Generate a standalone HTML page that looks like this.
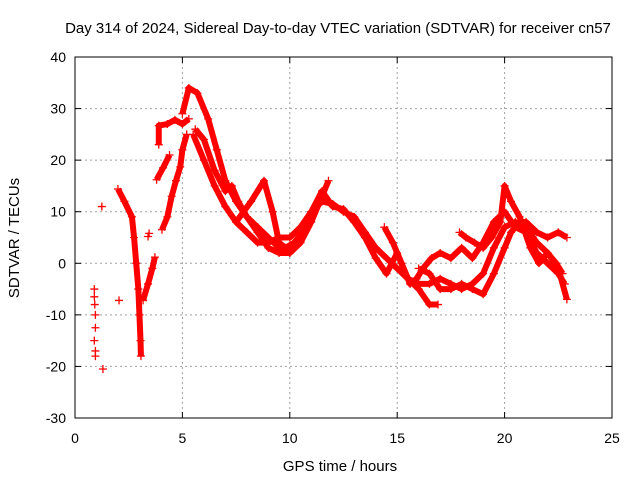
<!DOCTYPE html>
<html><head><meta charset="utf-8"><style>
body{margin:0;background:#fff}
svg{display:block;font-family:"Liberation Sans",sans-serif}
</style></head><body>
<svg id="chart" width="640" height="480">
<text x="338" y="33" font-size="15" text-anchor="middle">Day 314 of 2024, Sidereal Day-to-day VTEC variation (SDTVAR) for receiver cn57</text>
<text x="340" y="471" font-size="15" text-anchor="middle">GPS time / hours</text>
<text x="19" y="238" font-size="15" text-anchor="middle" transform="rotate(-90 19 238)">SDTVAR / TECUs</text>
<g id="grid"></g><g id="ticks"></g><g id="series"></g>
<rect x="75" y="57" width="537" height="361" fill="none" stroke="#000" stroke-width="1"/>
</svg>
<script>
const xTicks=[0,5,10,15,20,25];
const yTicks=[-30,-20,-10,0,10,20,30,40];
const isolated=[[0.9,-5],[0.9,-6.5],[0.92,-8],[0.95,-10],[0.95,-12.5],[0.9,-15],[0.95,-17],[0.95,-18],[1.25,11],[1.3,-20.5],[2.05,-7.2],[3.4,5.2],[3.45,5.8]];
const trackA=[[5.0,29],[5.3,34],[5.7,33],[6.2,28],[6.6,22],[7.0,16],[7.5,12],[8.0,9],[8.5,6],[9.0,3],[9.5,2],[10.0,2],[10.5,4],[11.0,8],[11.5,13],[11.8,16]];
const trackB=[[5.5,25],[6.0,20],[6.5,15],[7.0,11],[7.5,8],[8.0,6],[8.5,4],[9.0,4],[9.5,5],[10,5],[10.5,7],[11,10],[11.5,12],[12,11.5],[12.5,10],[13,9],[13.5,6],[14,3],[14.5,1],[15,-1],[15.5,-3],[16,-4],[16.5,-4],[17,-3],[17.5,-4],[18,-5],[18.5,-4],[19,-2],[19.5,3],[20,7],[20.5,8],[21,7],[21.5,4],[22,2],[22.5,-1],[22.9,-7]];
const trackC=[[7.5,8],[8.2,12],[8.8,16],[9.2,10],[9.5,4],[9.8,3],[10.2,4],[10.6,6],[11,10],[11.5,14],[12,11],[12.5,10.5],[13,8],[13.5,5],[14,1],[14.5,-2],[15,2],[15.5,-3],[16,-5],[16.5,-8],[16.9,-8]];
const trackD=[[14.4,7],[14.8,4],[15.2,0],[15.6,-4],[15.9,-3],[16.2,-1],[16.6,1],[17,2],[17.5,1],[18,3],[18.5,1],[19,4],[19.5,8],[20,10],[20.5,7],[21,6],[21.5,2],[22,0],[22.5,-2],[22.8,-4]];
const trackE=[[16,-1],[16.5,-2],[17,-5],[17.5,-5],[18,-4],[18.5,-5],[19,-6],[19.5,-2],[20,3],[20.3,6],[20.7,8],[21,8],[21.5,6],[22,5],[22.5,6],[22.9,5]];
const trackF=[[17.9,6],[18.2,5],[18.6,4],[19,3],[19.4,5],[19.8,8],[20,15],[20.3,12],[20.7,9],[21.2,3],[21.6,0],[22,2],[22.4,0],[22.7,-2]];
const trackG=[[5.6,26],[6.0,24],[6.5,18],[7.0,14],[7.3,15],[7.6,12],[8.0,9],[8.5,7],[9.0,5],[9.5,3],[10,3]];
const trackH=[[2.0,14.4],[2.3,12],[2.65,9],[2.75,5],[2.85,0],[2.95,-5],[3.0,-10],[3.05,-15],[3.07,-18]];
const trackI=[[3.17,-7.2],[3.4,-4],[3.6,-1],[3.72,1.2]];
const trackJ=[[4.05,6.5],[4.3,9],[4.5,13],[4.7,16],[4.9,18.7],[5.0,22],[5.2,25]];
const trackK=[[3.8,16.2],[4.1,18.5],[4.4,21]];
const trackL=[[3.9,23],[3.9,26.7],[4.3,27],[4.65,27.8],[5.0,27],[5.3,28]];
const tracks=[trackA,trackB,trackC,trackD,trackE,trackF,trackG,trackH,trackI,trackJ,trackK,trackL];
const X=h=>75+h*537/25, Y=v=>57+(40-v)*361/70;
const NS="http://www.w3.org/2000/svg";
function mk(t,a,p){const e=document.createElementNS(NS,t);for(const k in a)e.setAttribute(k,a[k]);p.appendChild(e);return e;}
const grid=document.getElementById('grid'),ticks=document.getElementById('ticks'),ser=document.getElementById('series');
xTicks.forEach(t=>{const x=X(t);
 if(t>0&&t<25){const g=mk('line',{x1:x,x2:x,y1:57,y2:418,stroke:'#a0a0a0','stroke-dasharray':'2,3'},grid);
 
 }
 mk('line',{x1:x,x2:x,y1:418,y2:412,stroke:'#000'},ticks);mk('line',{x1:x,x2:x,y1:57,y2:63,stroke:'#000'},ticks);
 const l=mk('text',{x:x,y:443,'font-size':14,'text-anchor':'middle'},ticks);l.textContent=t;
 
 });
yTicks.forEach(t=>{const y=Y(t);
 if(t>-30&&t<40){const g=mk('line',{x1:75,x2:612,y1:y,y2:y,stroke:'#a0a0a0','stroke-dasharray':'2,3'},grid);
 
 }
 mk('line',{x1:75,x2:81,y1:y,y2:y,stroke:'#000'},ticks);mk('line',{x1:612,x2:606,y1:y,y2:y,stroke:'#000'},ticks);
 const l=mk('text',{x:66,y:y+5,'font-size':14,'text-anchor':'end'},ticks);l.textContent=t;
 
 });
function plus(h,v){const x=X(h),y=Y(v);
 const p=mk('path',{d:`M${x-4},${y}H${x+4}M${x},${y-4}V${y+4}`,stroke:'#f00','stroke-width':1.3,fill:'none'},ser);
 
 }
tracks.forEach(tr=>{
 const pl=mk('polyline',{points:tr.map(p=>X(p[0])+','+Y(p[1])).join(' '),stroke:'#f00','stroke-width':6,fill:'none','stroke-linejoin':'round'},ser);
 
 
 tr.forEach(p=>plus(p[0],p[1]));});
isolated.forEach(p=>plus(p[0],p[1]));
</script>
</body></html>
